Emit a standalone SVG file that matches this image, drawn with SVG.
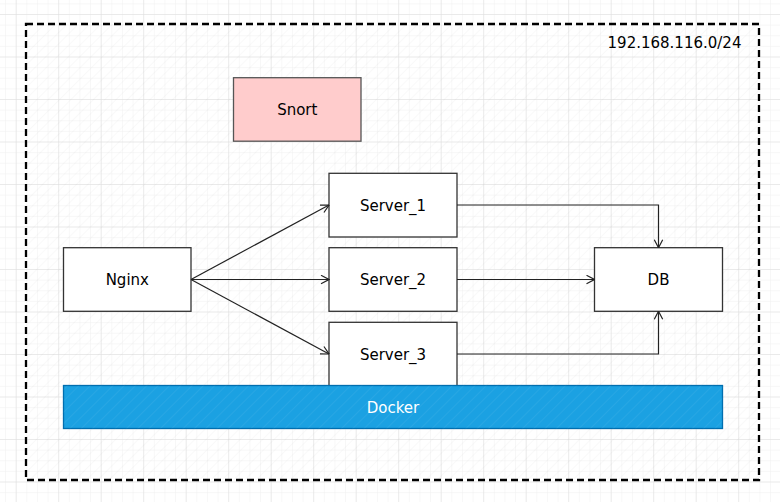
<svg xmlns="http://www.w3.org/2000/svg" width="780" height="502" viewBox="0 0 780 502">
<defs>
<pattern id="minor" x="15.7" y="14" width="10.625" height="10.625" patternUnits="userSpaceOnUse">
<path d="M0 0H10.625M0 0V10.625" fill="none" stroke="#efefef" stroke-width="1"/>
</pattern>
<pattern id="major" x="15.7" y="14" width="42.5" height="42.5" patternUnits="userSpaceOnUse">
<path d="M0 0H42.5M0 0V42.5" fill="none" stroke="#dedede" stroke-width="1"/>
</pattern>
<pattern id="hatch" width="8" height="8" patternUnits="userSpaceOnUse" patternTransform="rotate(45)">
<line x1="0" y1="0" x2="0" y2="8" stroke="#000" stroke-opacity="0.025" stroke-width="2"/>
</pattern>
<pattern id="hatchw" width="8" height="8" patternUnits="userSpaceOnUse" patternTransform="rotate(45)">
<line x1="0" y1="0" x2="0" y2="8" stroke="#ffffff" stroke-opacity="0.06" stroke-width="2"/>
</pattern>
<marker id="open" viewBox="0 0 10 10" refX="9.5" refY="5" markerWidth="10" markerHeight="10" markerUnits="userSpaceOnUse" orient="auto">
<path d="M1.5 0.8L9.5 5L1.5 9.2" fill="none" stroke="#222" stroke-width="1.2"/>
</marker>
<style>
.box{fill:#ffffff;stroke:#333333;stroke-width:1.3}
.lbl{font-family:"DejaVu Sans",sans-serif;font-size:15px;fill:#000;text-anchor:middle}
.edge{fill:none;stroke:#222;stroke-width:1.2;marker-end:url(#open)}
</style>
</defs>
<rect width="780" height="502" fill="#ffffff"/>
<rect width="780" height="502" fill="url(#minor)"/>
<rect width="780" height="502" fill="url(#major)"/>
<g id="network">
<rect x="26" y="24" width="733" height="456" fill="url(#hatch)" stroke="#000" stroke-width="2.3" stroke-dasharray="7 4"/>
<text class="lbl" x="674.5" y="48">192.168.116.0/24</text>
</g>
<g id="snort">
<rect x="233.5" y="77.7" width="127.5" height="63.5" fill="#ffcccc" stroke="#555" stroke-width="1.3"/>
<text class="lbl" x="297.3" y="115">Snort</text>
</g>
<g id="nginx">
<rect class="box" x="63.5" y="247.7" width="127.5" height="63.6"/>
<text class="lbl" x="127.3" y="285">Nginx</text>
</g>
<g id="server1">
<rect class="box" x="329" y="173.3" width="128" height="63.7"/>
<text class="lbl" x="393" y="210.5">Server_1</text>
</g>
<g id="server2">
<rect class="box" x="329" y="247.7" width="128" height="63.6"/>
<text class="lbl" x="393" y="285">Server_2</text>
</g>
<g id="server3">
<rect class="box" x="329" y="322.3" width="128" height="63.6"/>
<text class="lbl" x="393" y="359.5">Server_3</text>
</g>
<g id="db">
<rect class="box" x="594.5" y="247.7" width="128" height="63.6"/>
<text class="lbl" x="658.5" y="285">DB</text>
</g>
<g id="docker">
<rect x="63.5" y="385.5" width="659" height="43" fill="#1ba1e2" stroke="#006eaf" stroke-width="1.3"/>
<rect x="63.5" y="385.5" width="659" height="43" fill="url(#hatchw)"/>
<text class="lbl" x="393" y="412.5" style="fill:#ffffff">Docker</text>
</g>
<g id="connectors">
<path class="edge" d="M191 279.5L329 205"/>
<path class="edge" d="M191 279.5L329 279.5"/>
<path class="edge" d="M191 279.5L329 354"/>
<path class="edge" d="M457 205H658.5V247.7"/>
<path class="edge" d="M457 279.5H594.5"/>
<path class="edge" d="M457 354H658.5V311.3"/>
</g>
</svg>
